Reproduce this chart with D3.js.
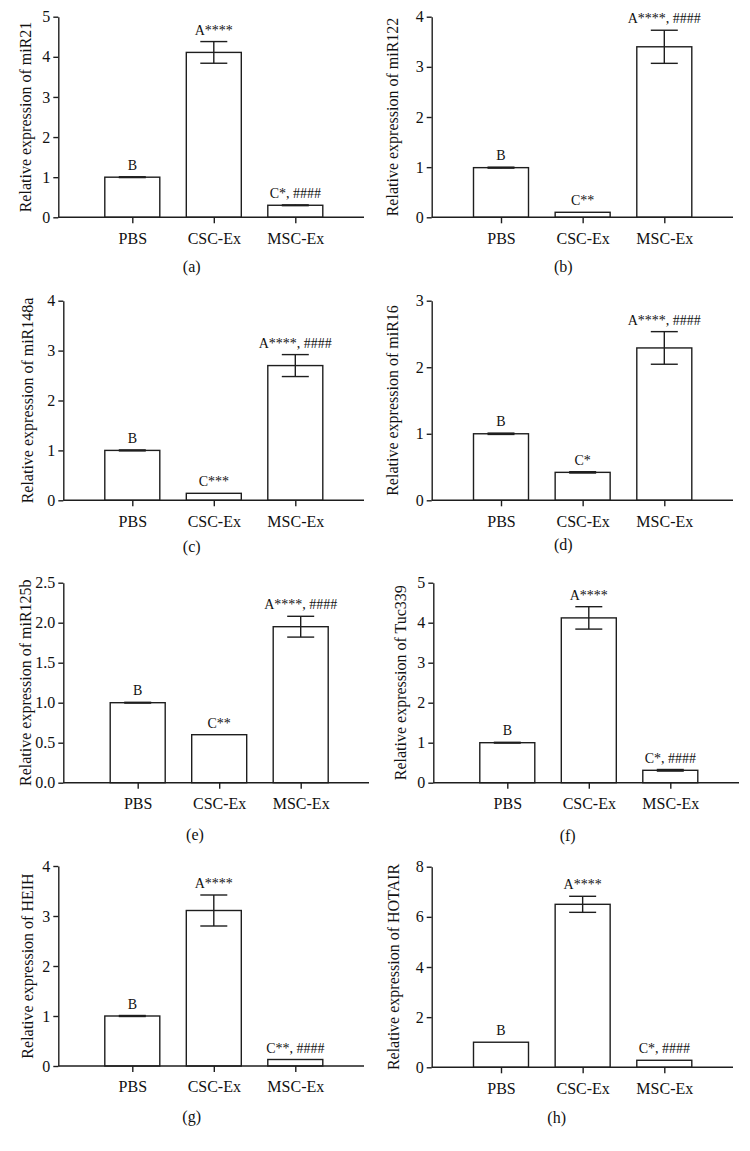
<!DOCTYPE html>
<html>
<head>
<meta charset="utf-8">
<script src="https://cdn.jsdelivr.net/npm/d3@7"></script>
<style>
  html, body { margin: 0; padding: 0; background: #fff; }
  svg { display: block; }
  text { font-family: "Liberation Serif", "Times New Roman", serif; fill: #111; }
</style>
</head>
<body>
<svg id="chart" width="750" height="1151"></svg>
<script>
// ---------- DATA ----------
const categories = ["PBS", "CSC-Ex", "MSC-Ex"];
const panelLetters = ["(a)", "(b)", "(c)", "(d)", "(e)", "(f)", "(g)", "(h)"];
const genes = ["miR21", "miR122", "miR148a", "miR16", "miR125b", "Tuc339", "HEIH", "HOTAIR"];

const meanMiR21   = [1.00, 4.11, 0.30];
const errMiR21    = [0.01, 0.27, 0.01];
const meanMiR122  = [0.99, 0.10, 3.40];
const errMiR122   = [0.01, 0.00, 0.33];
const meanMiR148a = [1.00, 0.14, 2.70];
const errMiR148a  = [0.01, 0.00, 0.22];
const meanMiR16   = [1.00, 0.42, 2.29];
const errMiR16    = [0.01, 0.01, 0.245];
const meanMiR125b = [1.00, 0.60, 1.95];
const errMiR125b  = [0.005, 0.00, 0.13];
const meanTuc339  = [1.00, 4.12, 0.31];
const errTuc339   = [0.01, 0.28, 0.02];
const meanHEIH    = [1.00, 3.11, 0.13];
const errHEIH     = [0.01, 0.31, 0.00];
const meanHOTAIR  = [1.00, 6.50, 0.28];
const errHOTAIR   = [0.00, 0.32, 0.00];

const sigMiR21   = ["B", "A****", "C*, ####"];
const sigMiR122  = ["B", "C**", "A****, ####"];
const sigMiR148a = ["B", "C***", "A****, ####"];
const sigMiR16   = ["B", "C*", "A****, ####"];
const sigMiR125b = ["B", "C**", "A****, ####"];
const sigTuc339  = ["B", "A****", "C*, ####"];
const sigHEIH    = ["B", "A****", "C**, ####"];
const sigHOTAIR  = ["B", "A****", "C*, ####"];

const ticksMiR21   = [0, 1, 2, 3, 4, 5];
const ticksMiR122  = [0, 1, 2, 3, 4];
const ticksMiR148a = [0, 1, 2, 3, 4];
const ticksMiR16   = [0, 1, 2, 3];
const ticksMiR125b = [0.0, 0.5, 1.0, 1.5, 2.0, 2.5];
const ticksTuc339  = [0, 1, 2, 3, 4, 5];
const ticksHEIH    = [0, 1, 2, 3, 4];
const ticksHOTAIR  = [0, 2, 4, 6, 8];

// ---------- LAYOUT (positions only) ----------
const layout = [
  {x0: 58.3,  c1: 132.3, c3: 295.3, x1: 364,  yTop: 16.7,  yBot: 217.3,  labX: 25,  letX: 191.7, letY: 271.5},
  {x0: 431.7, c1: 501,   c3: 664.3, x1: 733,  yTop: 16.7,  yBot: 217.3,  labX: 392, letX: 563.3, letY: 271.5},
  {x0: 63.3,  c1: 132.3, c3: 295.3, x1: 364,  yTop: 300.7, yBot: 500.3,  labX: 27,  letX: 191.7, letY: 551.5},
  {x0: 431.7, c1: 501,   c3: 664.3, x1: 733,  yTop: 300.7, yBot: 500.3,  labX: 392, letX: 563.3, letY: 549.5},
  {x0: 63.3,  c1: 137.7, c3: 300.7, x1: 369,  yTop: 582.7, yBot: 782.7,  labX: 25,  letX: 195,   letY: 840},
  {x0: 433.3, c1: 507.3, c3: 670.3, x1: 739,  yTop: 582.7, yBot: 782.7,  labX: 400, letX: 567.7, letY: 841},
  {x0: 58.3,  c1: 132.3, c3: 295.3, x1: 364,  yTop: 866,   yBot: 1066,   labX: 27,  letX: 191.7, letY: 1121.5},
  {x0: 431.7, c1: 501,   c3: 664.3, x1: 733,  yTop: 866.7, yBot: 1067.3, labX: 393, letX: 556.7, letY: 1123}
];

const means = [meanMiR21, meanMiR122, meanMiR148a, meanMiR16, meanMiR125b, meanTuc339, meanHEIH, meanHOTAIR];
const errs  = [errMiR21, errMiR122, errMiR148a, errMiR16, errMiR125b, errTuc339, errHEIH, errHOTAIR];
const sigs  = [sigMiR21, sigMiR122, sigMiR148a, sigMiR16, sigMiR125b, sigTuc339, sigHEIH, sigHOTAIR];
const ticks = [ticksMiR21, ticksMiR122, ticksMiR148a, ticksMiR16, ticksMiR125b, ticksTuc339, ticksHEIH, ticksHOTAIR];

const stroke = "#1e1e1e";
const lw = 1.4;
const barW = 55;
const capW = 27;

const svg = d3.select("#chart");

layout.forEach((L, i) => {
  const g = svg.append("g");
  const tk = ticks[i];
  const y = d3.scaleLinear().domain([tk[0], tk[tk.length - 1]]).range([L.yBot, L.yTop]);
  const x = d3.scalePoint().domain(categories).range([L.c1, L.c3]);
  const data = categories.map((c, k) => ({cat: c, v: means[i][k], e: errs[i][k], s: sigs[i][k]}));

  // Bars
  g.selectAll("rect.bar").data(data).join("rect")
    .attr("class", "bar")
    .attr("x", d => x(d.cat) - barW / 2)
    .attr("width", barW)
    .attr("y", d => y(d.v))
    .attr("height", d => y(0) - y(d.v))
    .attr("fill", "#fff")
    .attr("stroke", stroke)
    .attr("stroke-width", lw);

  // Error bars
  const eb = data.filter(d => d.e > 0);
  const ge = g.selectAll("g.err").data(eb).join("g").attr("class", "err")
    .attr("stroke", stroke).attr("stroke-width", lw);
  ge.append("line")
    .attr("x1", d => x(d.cat)).attr("x2", d => x(d.cat))
    .attr("y1", d => y(d.v - d.e)).attr("y2", d => y(d.v + d.e));
  ge.append("line")
    .attr("x1", d => x(d.cat) - capW / 2).attr("x2", d => x(d.cat) + capW / 2)
    .attr("y1", d => y(d.v + d.e)).attr("y2", d => y(d.v + d.e));
  ge.append("line")
    .attr("x1", d => x(d.cat) - capW / 2).attr("x2", d => x(d.cat) + capW / 2)
    .attr("y1", d => y(d.v - d.e)).attr("y2", d => y(d.v - d.e));

  // Y axis
  const fmt = (i === 4) ? d3.format(".1f") : d3.format("d");
  const ya = g.append("g").attr("transform", `translate(${L.x0},0)`)
    .call(d3.axisLeft(y).tickValues(tk).tickFormat(fmt).tickSize(5).tickPadding(3).tickSizeOuter(0));
  ya.select(".domain").attr("stroke", stroke).attr("stroke-width", lw);
  ya.selectAll(".tick line").attr("stroke", stroke).attr("stroke-width", lw);
  ya.selectAll(".tick text").attr("font-family", "Liberation Serif").attr("font-size", 16).attr("fill", "#111");

  // X axis (domain line spans full axis width)
  const xa = g.append("g").attr("transform", `translate(0,${L.yBot})`)
    .call(d3.axisBottom(x).tickSize(6).tickPadding(9).tickSizeOuter(0));
  xa.select(".domain").attr("d", `M${L.x0},0H${L.x1}`).attr("stroke", stroke).attr("stroke-width", lw);
  xa.selectAll(".tick line").attr("stroke", stroke).attr("stroke-width", lw);
  xa.selectAll(".tick text").attr("font-family", "Liberation Serif").attr("font-size", 16).attr("fill", "#111");

  // Significance annotations
  g.selectAll("text.sig").data(data).join("text")
    .attr("class", "sig")
    .attr("x", d => x(d.cat))
    .attr("y", d => y(d.v + d.e) - 7)
    .attr("text-anchor", "middle")
    .attr("font-size", 14)
    .text(d => d.s);

  // Y axis title
  g.append("text")
    .attr("transform", `translate(${L.labX},${(L.yTop + L.yBot) / 2}) rotate(-90)`)
    .attr("text-anchor", "middle")
    .attr("dominant-baseline", "central")
    .attr("font-size", 16)
    .text("Relative expression of " + genes[i]);

  // Panel letter
  g.append("text")
    .attr("x", L.letX).attr("y", L.letY)
    .attr("text-anchor", "middle")
    .attr("font-size", 16)
    .text(panelLetters[i]);
});
</script>
</body>
</html>
